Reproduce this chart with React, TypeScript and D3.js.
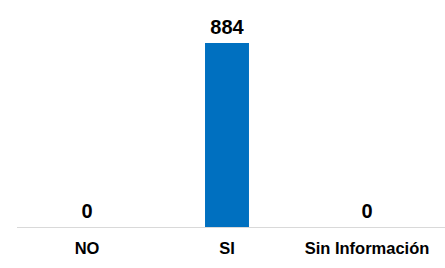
import * as React from 'react'
import * as d3 from 'd3'

const categories = ['NO', 'SI', 'Sin Información']
const values = [0, 884, 0]

const width = 445
const height = 268
const margin = { top: 43, right: 8, bottom: 41, left: 17 }

const App: React.FC = () => {
  const ref = React.useRef<SVGSVGElement>(null)

  React.useEffect(() => {
    const svg = d3.select(ref.current)
    svg.selectAll('*').remove()

    const x = d3.scaleBand<string>()
      .domain(categories)
      .range([margin.left, 437])
      .paddingInner(0.686)
      .paddingOuter(0.343)

    const y = d3.scaleLinear()
      .domain([0, d3.max(values) as number])
      .range([height - margin.bottom, margin.top])

    const font = '"Liberation Sans", Arial, Helvetica, sans-serif'

    svg.append('line')
      .attr('x1', margin.left)
      .attr('x2', width)
      .attr('y1', y(0) + 0.5)
      .attr('y2', y(0) + 0.5)
      .attr('stroke', '#d9d9d9')
      .attr('stroke-width', 1)

    const data = categories.map((c, i) => ({ label: c, value: values[i] }))

    svg.selectAll('rect.bar')
      .data(data)
      .enter()
      .append('rect')
      .attr('class', 'bar')
      .attr('x', d => x(d.label) as number)
      .attr('width', x.bandwidth())
      .attr('y', d => y(d.value))
      .attr('height', d => y(0) - y(d.value))
      .attr('fill', '#0070c0')

    svg.selectAll('text.val')
      .data(data)
      .enter()
      .append('text')
      .attr('class', 'val')
      .attr('x', d => (x(d.label) as number) + x.bandwidth() / 2)
      .attr('y', d => y(d.value) - 9)
      .attr('text-anchor', 'middle')
      .attr('font-family', font)
      .attr('font-weight', 'bold')
      .attr('font-size', 20)
      .attr('fill', '#000')
      .text(d => d.value)

    svg.selectAll('text.cat')
      .data(data)
      .enter()
      .append('text')
      .attr('class', 'cat')
      .attr('x', d => (x(d.label) as number) + x.bandwidth() / 2)
      .attr('y', y(0) + 27)
      .attr('text-anchor', 'middle')
      .attr('font-family', font)
      .attr('font-weight', 'bold')
      .attr('font-size', 16.5)
      .attr('fill', '#000')
      .text(d => d.label)
  }, [])

  return (
    <svg
      ref={ref}
      width={width}
      height={height}
      style={{ position: 'absolute', left: 0, top: 0, background: '#fff' }}
    />
  )
}

export default App
